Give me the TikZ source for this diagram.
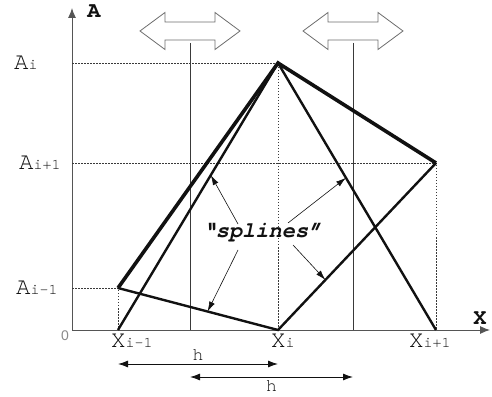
\documentclass[tikz,border=0pt]{standalone}
\usepackage{fontspec}
\setmainfont{Liberation Serif}
\setmonofont{texgyrecursor}[Extension=.otf, UprightFont=*-regular, BoldFont=*-bold,
  ItalicFont=*-italic, BoldItalicFont=*-bolditalic]
\setsansfont{Liberation Sans}
\usetikzlibrary{arrows.meta,positioning,calc}
\definecolor{ink}{HTML}{111111}
\definecolor{axiscol}{HTML}{555555}
\definecolor{guide}{HTML}{3A3A3A}
\definecolor{slidercol}{HTML}{6E6E6E}
\definecolor{muted}{HTML}{8A8A8A}
\newcommand{\lv}[2]{{\fontsize{24}{24}\selectfont #1}{\fontsize{15}{15}\selectfont #2}}

\begin{document}
\begin{tikzpicture}[
  x=1pt, y=1pt,
  axis/.style={line width=1pt, draw=axiscol, -{Latex[length=10pt,width=8pt]}},
  bold/.style={line width=3.6pt, draw=ink, line join=miter},
  curve/.style={line width=2.4pt, draw=ink, line join=miter},
  dotline/.style={line width=0.8pt, draw=guide, dash pattern=on 1.5pt off 1.5pt},
  guideline/.style={line width=0.9pt, draw=guide},
  note/.style={line width=0.6pt, draw=ink, -{Latex[length=10pt,width=6pt]}},
  dim/.style={line width=0.9pt, draw=ink, {Latex[length=10pt,width=7pt]}-{Latex[length=10pt,width=7pt]}},
  lab/.style={font=\ttfamily, text=ink, inner sep=0pt},
  slider/.pic={
    \draw[line width=0.8pt, draw=slidercol, fill=white]
      (-50,0) -- (-25,18.5) -- (-25,9) -- (25,9) -- (25,18.5) -- (50,0)
      -- (25,-18.5) -- (25,-9) -- (-25,-9) -- (-25,-18.5) -- cycle;
  }
]
\useasboundingbox (-72,-66) rectangle (420,330);

%% ---------- points ----------
\coordinate (O)  at (0,0);
\coordinate (Xm) at (46,0);
\coordinate (Xi) at (206,0);
\coordinate (Xp) at (364,0);
\coordinate (Pm) at (46,42);
\coordinate (Pi) at (206,267);
\coordinate (Pp) at (364,167);

%% ---------- axes ----------
\draw[axis] (O) -- (0,322);
\draw[axis] (O) -- (418,0);
\node[lab, font=\ttfamily\bfseries\fontsize{22}{22}\selectfont] (ylab) at (22,319) {A};
\node[lab, font=\ttfamily\bfseries\fontsize{22}{22}\selectfont] (xlab) at (408,12) {X};
\node[font=\sffamily\fontsize{14}{14}\selectfont, text=muted] (zero) at (-7,-6) {0};

%% ---------- guides ----------
\draw[dotline] (0,267) -- (Pi) -- (Xi);
\draw[dotline] (0,167) -- (Pp) -- (Xp);
\draw[dotline] (0,42) -- (Pm) -- (Xm);

%% ---------- sliders ----------
\pic at (118,299) {slider};
\pic at (281,299) {slider};
\coordinate (s1) at (118,287);
\coordinate (s2) at (281,287);
\draw[guideline] (s1) -- (s1 |- O);
\draw[guideline] (s2) -- (s2 |- O);

%% ---------- shape functions ----------
\draw[curve] (Xm) -- (Pi) -- (Xp);
\draw[curve] (Pm) -- (Xi) -- (Pp);
\draw[bold] (Pm) -- (Pi) -- (Pp);

%% ---------- level labels ----------
\node[lab, anchor=base west] (ai)  at (-58,260) {\lv{A}{i}};
\node[lab, anchor=base west] (aip) at (-53,160) {\lv{A}{i+1}};
\node[lab, anchor=base west] (aim) at (-56,35)  {\lv{A}{i-1}};
\node[lab, anchor=base west] (xim) at (39,-17)  {\lv{X}{i-1}};
\node[lab, anchor=base west] (xi)  at (199,-17) {\lv{X}{i}};
\node[lab, anchor=base west] (xip) at (337,-17) {\lv{X}{i+1}};

%% ---------- splines ----------
\node[lab, font=\ttfamily\bfseries\itshape\fontsize{22}{22}\selectfont] (spl) at (190,97) {“splines”};
\path (Xm) -- (Pi) coordinate[pos=0.58] (t1);
\path (Pm) -- (Xi) coordinate[pos=0.56] (t2);
\path (Pi) -- (Xp) coordinate[pos=0.43] (t3);
\path (Xi) -- (Pp) coordinate[pos=0.30] (t4);
\draw[note] (166,106) -- (t1);
\draw[note] (166,80) -- (t2);
\draw[note] (216,107) -- (t3);
\draw[note] (221,85) -- (t4);

%% ---------- widths ----------
\draw[dim] (Xm |- 0,-34) -- (Xi |- 0,-34)
  node[lab, midway, above=3pt, font=\ttfamily\fontsize{18}{18}\selectfont] (h1) {h};
\draw[dim] (s1 |- 0,-47) -- (s2 |- 0,-47)
  node[lab, midway, below=3pt, font=\ttfamily\fontsize{18}{18}\selectfont] (h2) {h};

\end{tikzpicture}
\end{document}
